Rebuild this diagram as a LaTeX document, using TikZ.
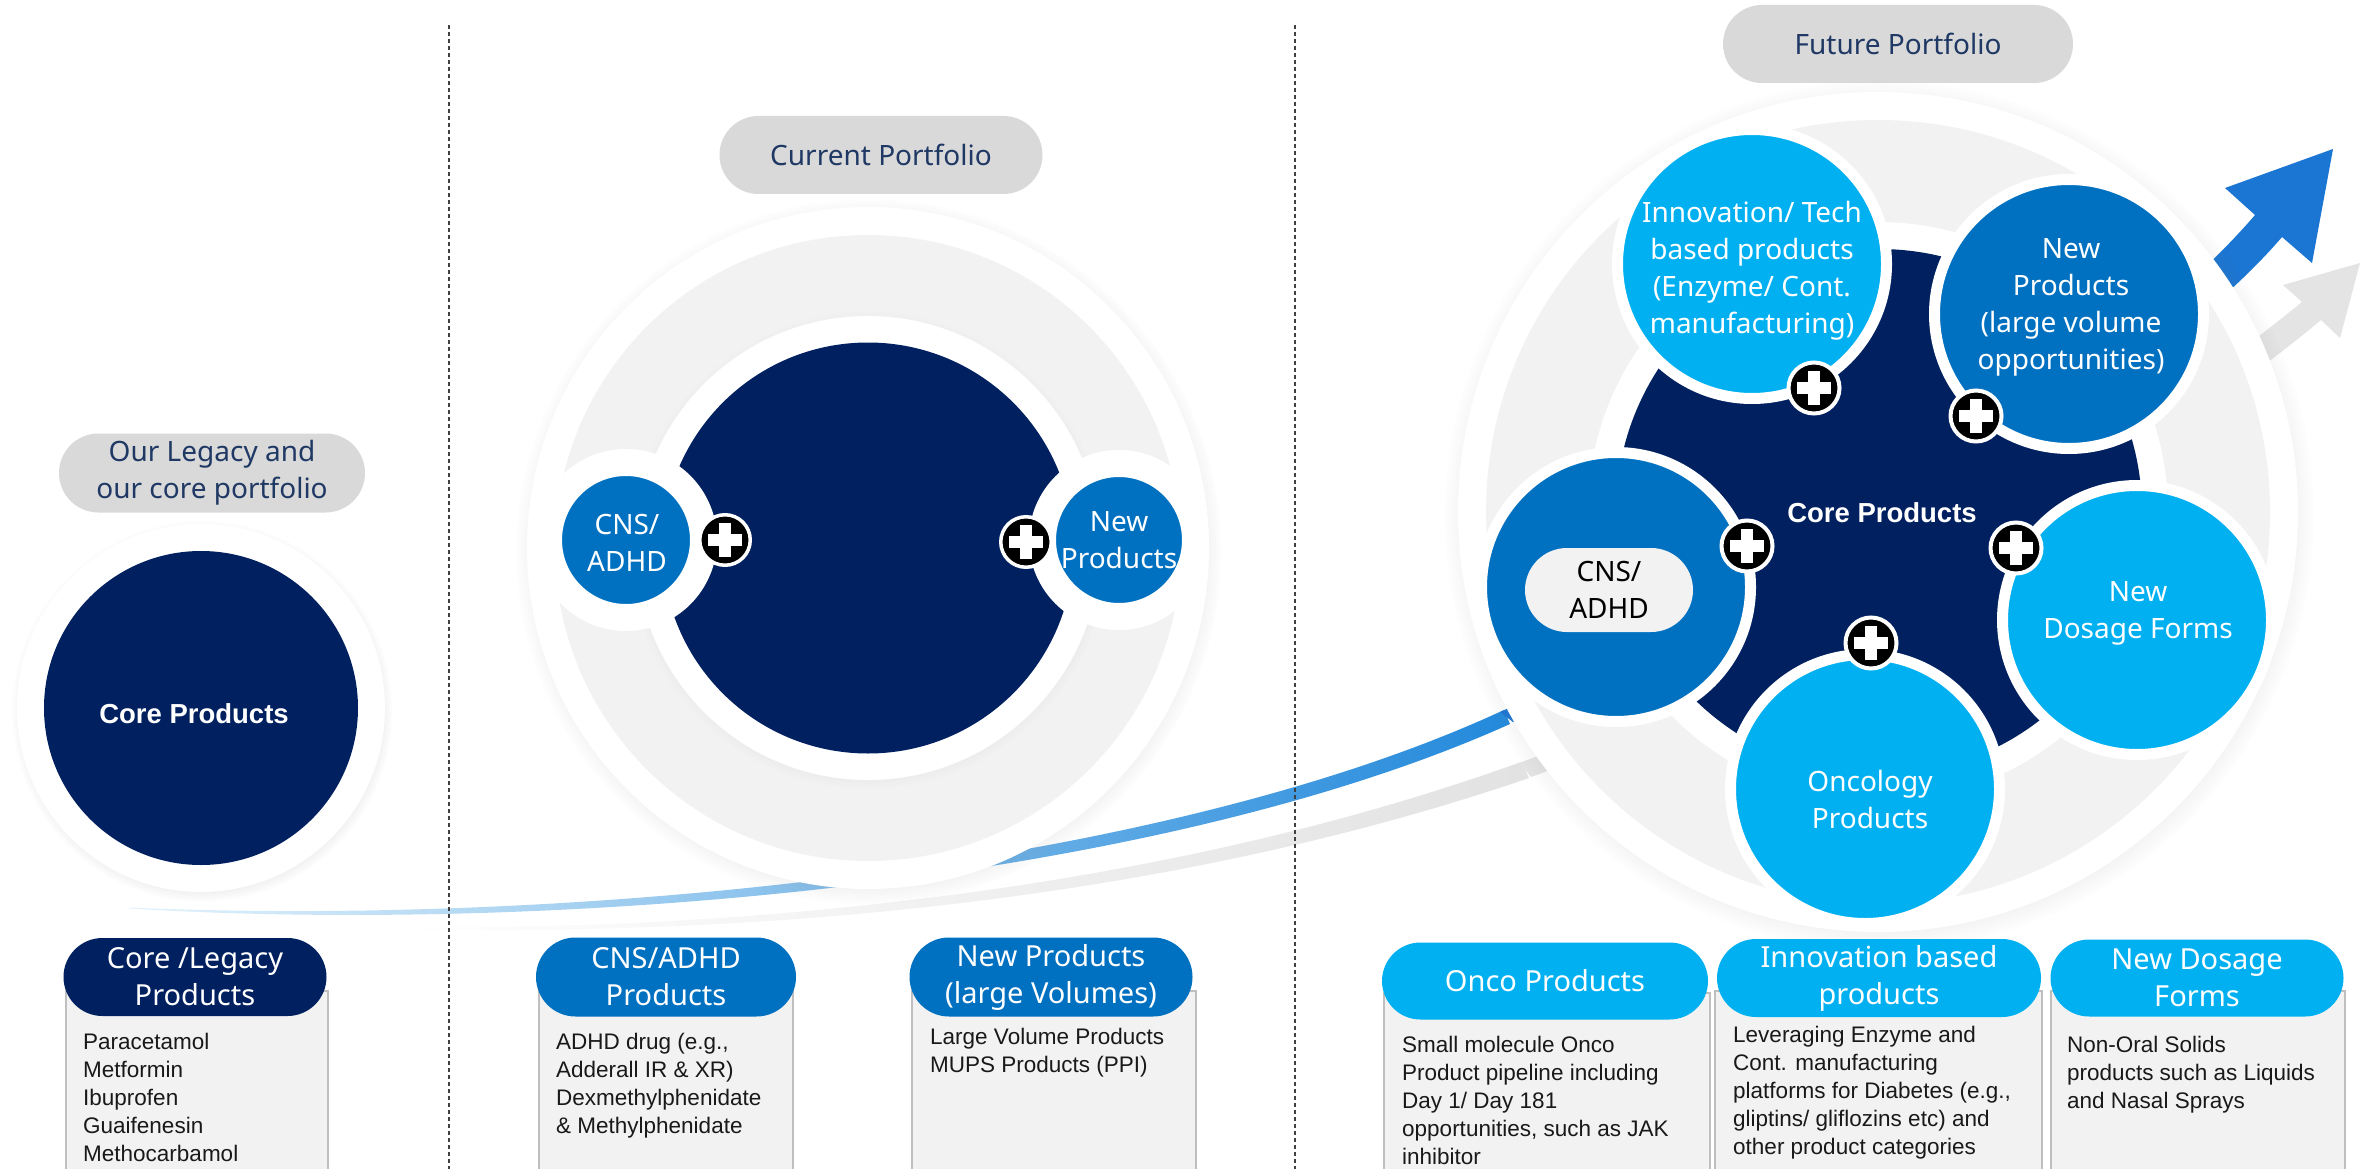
\documentclass[tikz,border=0pt]{standalone}
\usepackage{fontspec}
\setmainfont{Liberation Sans}
\newfontfamily\plex{Noto Sans}
\usetikzlibrary{shadows,shapes.misc}
\definecolor{navy}{HTML}{002060}
\definecolor{midblue}{HTML}{0070C0}
\definecolor{lightblue}{HTML}{00B0F0}
\definecolor{pillgray}{HTML}{D9D9D9}
\definecolor{ringgray}{HTML}{F2F2F2}
\definecolor{boxgray}{HTML}{F2F2F2}
\definecolor{boxline}{HTML}{BFBFBF}
\definecolor{titletext}{HTML}{1F3864}
\definecolor{curveA}{HTML}{E4F3FB}
\definecolor{curveB}{HTML}{3BA7E8}
\definecolor{curveC}{HTML}{2389DB}
\definecolor{arrowblue}{HTML}{1B75D2}
\definecolor{arrowgray}{HTML}{E4E4E4}
\definecolor{curvegray}{HTML}{E2E2E2}
\begin{document}
\begin{tikzpicture}[x=1pt,y=-1pt,
  titlepill/.style={rounded rectangle, fill=pillgray, text=titletext, font=\plex\fontsize{28}{37}\selectfont, align=center, inner sep=0pt},
  hdrpill/.style={rounded rectangle, text=white, font=\plex\fontsize{29}{37}\selectfont, align=center, inner sep=0pt},
  infobox/.style={fill=boxgray, draw=boxline, line width=2pt, anchor=north west, inner sep=0pt, minimum height=220pt},
  boxtext/.style={anchor=north west, align=left, inner sep=0pt, font=\fontsize{22.5}{28}\selectfont, text=black!90},
  ctext/.style={text=white, font=\plex\fontsize{28}{37}\selectfont, align=center, inner sep=0pt},
  coretext/.style={text=white, font=\bfseries\fontsize{27.5}{33}\selectfont, inner sep=0pt},
  satF/.style={circle, draw=white, line width=11pt, minimum size=269pt, inner sep=0pt},
  satC/.style={circle, draw=white, line width=27pt, minimum size=155pt, inner sep=0pt},
  plusicon/.style={circle, fill=black, draw=white, line width=#1, minimum size=2*(23.5pt+#1/2), inner sep=0pt,
    path picture={
      \fill[white] ([xshift=-17pt,yshift=-6pt]path picture bounding box.center) rectangle ([xshift=17pt,yshift=6pt]path picture bounding box.center);
      \fill[white] ([xshift=-6pt,yshift=-17pt]path picture bounding box.center) rectangle ([xshift=6pt,yshift=17pt]path picture bounding box.center);}},
  plusicon/.default=4pt,
  dashline/.style={draw=black!75, line width=1.1pt, dash pattern=on 4pt off 3pt},
  softshadow/.style={circular drop shadow={shadow scale=1.035, shadow xshift=1pt, shadow yshift=-3pt, opacity=0.28}}
]
\useasboundingbox (0,0) rectangle (2377,1169);
\fill[white] (0,0) rectangle (2377,1169);

% ---------------- growth curves ----------------
\shade[left color=white, right color=curvegray]
  (380,927) .. controls (720,932) and (1150,896) .. (1521,762)
  -- (1529,778) .. controls (1150,908) and (720,938) .. (380,928) -- cycle;
\fill[arrowgray]
  (1519,763) .. controls (1826,652) and (2170,410) .. (2302,302)
  -- (2283,285) -- (2360,263) -- (2340,338) -- (2321,320)
  .. controls (2190,430) and (1834,668) .. (1531,777) -- cycle;
\shade[left color=curveA, middle color=curveB, right color=curveC]
  (129,907.5) .. controls (550,926) and (1150,874) .. (1504,710)
  -- (1510,724) .. controls (1150,886) and (550,934) .. (129,908.5) -- cycle;
\fill[arrowblue]
  (1500,712) .. controls (1797,576) and (2125,367) .. (2255,215)
  -- (2225,188) -- (2333,149) -- (2312,263) -- (2282,237)
  .. controls (2152,389) and (1803,590) .. (1513,722) -- cycle;

% ---------------- dashed separators ----------------
\draw[dashline] (449,25) -- (449,1169);
\draw[dashline] (1295,25) -- (1295,1169);

% ---------------- Legacy ----------------
\node[titlepill, minimum width=306pt, minimum height=79pt] (legT) at (212,473) {Our Legacy and\\our core portfolio};
\fill[white, softshadow] (201,708) circle [radius=184];
\node[circle, fill=navy, minimum size=314pt, inner sep=0pt] (legCore) at (201,708) {};
\node[coretext] (legCoreT) at (194,714) {Core Products};

% ---------------- Current ----------------
\node[titlepill, minimum width=323pt, minimum height=78pt] (curT) at (881,155) {Current Portfolio};
\fill[white, softshadow] (868,548) circle [radius=341];
\fill[ringgray] (868,548) circle [radius=313];
\fill[white, circular drop shadow={shadow scale=1.03, shadow xshift=0pt, shadow yshift=-2pt, opacity=0.15}] (868,548) circle [radius=232];
\node[circle, fill=navy, minimum size=411pt, inner sep=0pt] (curCore) at (868,548) {};
\node[satC, fill=midblue] (curCNS) at (626,540) {};
\node[ctext] (curCNST) at (627,543) {CNS/\\ADHD};
\node[satC, fill=midblue, minimum size=153pt] (curNP) at (1119,540) {};
\node[ctext] (curNPT) at (1119,540) {New\\Products};
\node[plusicon=3.5pt] (curP1) at (725,540) {};
\node[plusicon=3.5pt] (curP2) at (1026,542) {};

% ---------------- Future ----------------
\node[titlepill, minimum width=350pt, minimum height=78pt] (futT) at (1898,44) {Future Portfolio};
\fill[white, softshadow] (1878,512) circle [radius=420];
\fill[ringgray] (1878,512) circle [radius=392];
\fill[white] (1878,512) circle [radius=290];
\node[circle, fill=navy, minimum size=526pt, inner sep=0pt] (futCore) at (1879,512) {};
\node[coretext] (futCoreT) at (1882,513) {Core Products};

\node[satF, fill=lightblue] (futInn) at (1752,264) {};
\node[ctext] (futInnT) at (1752,271) {Innovation/ Tech\\based products\\(Enzyme/ Cont.\\manufacturing)};
\node[satF, fill=midblue] (futNP) at (2069,314) {};
\node[ctext] (futNPT) at (2071,307) {New\\Products\\(large volume\\opportunities)};
\node[satF, fill=midblue] (futCNS) at (1616,587) {};
\node[rounded rectangle, fill=ringgray, minimum width=168pt, minimum height=84pt, inner sep=0pt,
      text=black, font=\plex\fontsize{28}{37}\selectfont, align=center] (futCNST) at (1609,590) {CNS/\\ADHD};
\node[satF, fill=lightblue] (futDos) at (2137,620) {};
\node[ctext] (futDosT) at (2138,613) {New\\Dosage Forms};
\node[satF, fill=lightblue] (futOnc) at (1865,789) {};
\node[ctext] (futOncT) at (1870,799) {Oncology\\Products};

\node[plusicon] (futP1) at (1814,388) {};
\node[plusicon] (futP2) at (1976,416) {};
\node[plusicon] (futP3) at (1747,546) {};
\node[plusicon] (futP4) at (2016,548) {};
\node[plusicon] (futP5) at (1871,643) {};

% ---------------- Bottom boxes ----------------
\node[infobox, minimum width=262pt] (boxCore) at (65,990) {};
\node[hdrpill, fill=navy, minimum width=263pt, minimum height=78pt] (pillCore) at (195,977) {Core /Legacy\\Products};
\node[boxtext] (txtCore) at (83,1033) {Paracetamol\\Metformin\\Ibuprofen\\Guaifenesin\\Methocarbamol};

\node[infobox, minimum width=254pt] (boxCNS) at (538,990) {};
\node[hdrpill, fill=midblue, minimum width=260pt, minimum height=79pt] (pillCNS) at (666,977) {CNS/ADHD\\Products};
\node[boxtext] (txtCNS) at (556,1033) {ADHD drug (e.g.,\\Adderall IR \& XR)\\Dexmethylphenidate\\\& Methylphenidate};

\node[infobox, minimum width=284pt] (boxNP) at (911,990) {};
\node[hdrpill, fill=midblue, minimum width=283pt, minimum height=79pt] (pillNP) at (1051,977) {New Products\\(large Volumes)};
\node[boxtext] (txtNP) at (930,1028) {Large Volume Products\\MUPS Products (PPI)};

\node[infobox, minimum width=326pt] (boxOnc) at (1383,992) {};
\node[hdrpill, fill=lightblue, minimum width=326pt, minimum height=77pt] (pillOnc) at (1545,981) {Onco Products};
\node[boxtext] (txtOnc) at (1402,1036) {Small molecule Onco\\Product pipeline including\\Day 1/ Day 181\\opportunities, such as JAK\\inhibitor};

\node[infobox, minimum width=327pt] (boxInn) at (1714,990) {};
\node[hdrpill, fill=lightblue, minimum width=324pt, minimum height=78pt] (pillInn) at (1879,978) {Innovation based\\products};
\node[boxtext] (txtInn) at (1733,1026) {Leveraging Enzyme and\\Cont. manufacturing\\platforms for Diabetes (e.g.,\\gliptins/ gliflozins etc) and\\other product categories};

\node[infobox, minimum width=294pt] (boxDos) at (2050,990) {};
\node[hdrpill, fill=lightblue, minimum width=293pt, minimum height=77pt] (pillDos) at (2197,978) {New Dosage\\Forms};
\node[boxtext] (txtDos) at (2067,1036) {Non-Oral Solids\\products such as Liquids\\and Nasal Sprays};
\end{tikzpicture}
\end{document}
